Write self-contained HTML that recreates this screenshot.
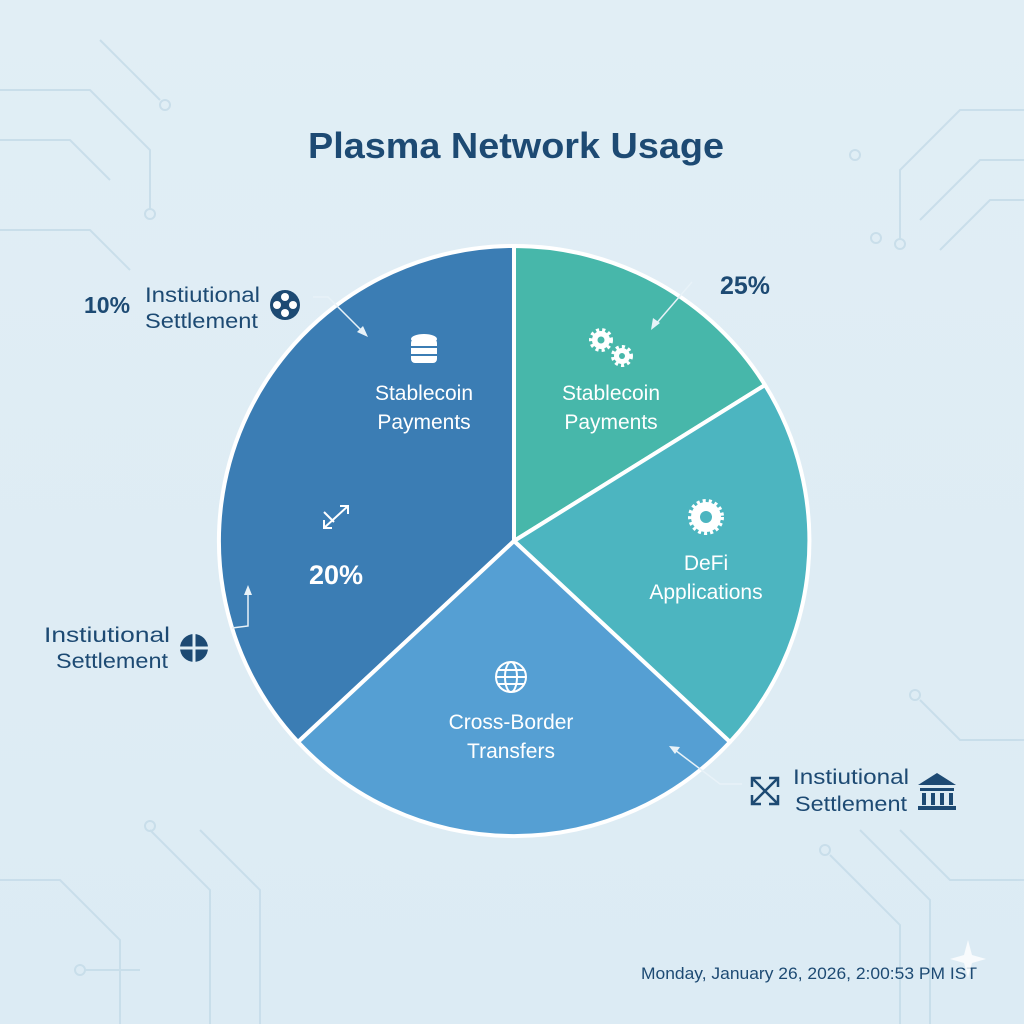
<!DOCTYPE html>
<html><head><style>
html,body{margin:0;padding:0;}
body{width:1024px;height:1024px;background:linear-gradient(180deg,#e1eef5,#dcebf4);overflow:hidden;}
svg{display:block;font-family:"Liberation Sans","DejaVu Sans",sans-serif;}
</style></head><body>
<svg width="1024" height="1024" viewBox="0 0 1024 1024">
<g stroke="#c4dbe8" stroke-width="2" fill="none" opacity="0.8">
<path d="M0 90 H90 L150 150 V210"/><circle cx="150" cy="214" r="5"/>
<path d="M0 140 H70 L110 180"/><path d="M0 230 H90 L130 270"/>
<path d="M100 40 L160 100"/><circle cx="165" cy="105" r="5"/>
<path d="M1024 110 H960 L900 170 V240"/><circle cx="900" cy="244" r="5"/>
<path d="M1024 160 H980 L920 220"/><circle cx="876" cy="238" r="5"/>
<path d="M1024 200 H990 L940 250"/><circle cx="855" cy="155" r="5"/>
<path d="M0 880 H60 L120 940 V1024"/><path d="M150 830 L210 890 V1024"/><circle cx="150" cy="826" r="5"/>
<path d="M200 830 L260 890 V1024"/><circle cx="80" cy="970" r="5"/><path d="M85 970 H140"/>
<path d="M1024 740 H960 L920 700"/><circle cx="915" cy="695" r="5"/>
<path d="M1024 880 H950 L900 830"/><circle cx="825" cy="850" r="5"/><path d="M830 855 L900 925 V1024"/>
<path d="M860 830 L930 900 V1024"/>
</g>
<text x="516" y="158" text-anchor="middle" font-size="36" font-weight="bold" fill="#1d4a73" textLength="416" lengthAdjust="spacingAndGlyphs">Plasma Network Usage</text>
<g stroke="#fff" stroke-width="4" stroke-linejoin="round">
<path d="M514 541 L298 742 A295 295 0 0 1 514 246 Z" fill="#3b7db4"/>
<path d="M514 541 L514 246 A295 295 0 0 1 765 385 Z" fill="#47b7aa"/>
<path d="M514 541 L765 385 A295 295 0 0 1 730 742 Z" fill="#4cb5c0"/>
<path d="M514 541 L730 742 A295 295 0 0 1 298 742 Z" fill="#559fd3"/>
</g>
<g fill="#fff" font-size="21" text-anchor="middle">
<text x="424" y="400">Stablecoin</text><text x="424" y="429">Payments</text>
<text x="611" y="400">Stablecoin</text><text x="611" y="429">Payments</text>
<text x="706" y="570">DeFi</text><text x="706" y="599">Applications</text>
<text x="511" y="729">Cross-Border</text><text x="511" y="758">Transfers</text>
<text x="336" y="584" font-size="27" font-weight="bold">20%</text>
</g>
<g fill="#fff"><ellipse cx="424" cy="339" rx="13" ry="5"/><rect x="411" y="339" width="26" height="24" rx="4"/></g>
<g stroke="#3b7db4" stroke-width="2"><line x1="411" y1="347" x2="437" y2="347"/><line x1="411" y1="355" x2="437" y2="355"/></g>
<g fill="#fff"><circle cx="601" cy="340" r="9"/><circle cx="622" cy="356" r="8"/><circle cx="706" cy="517" r="15"/></g>
<g stroke="#fff" stroke-width="4" stroke-dasharray="3 3" fill="none"><circle cx="601" cy="340" r="10"/><circle cx="622" cy="356" r="9"/><circle cx="706" cy="517" r="16"/></g>
<g fill="#47b7aa"><circle cx="601" cy="340" r="3.5"/><circle cx="622" cy="356" r="3"/></g><circle cx="706" cy="517" r="6" fill="#4cb5c0"/>
<g stroke="#fff" stroke-width="2" fill="none"><circle cx="511" cy="677" r="15"/><ellipse cx="511" cy="677" rx="6" ry="15"/><line x1="496" y1="677" x2="526" y2="677"/><line x1="498" y1="670" x2="524" y2="670"/><line x1="498" y1="684" x2="524" y2="684"/>
<path d="M324 528 L348 506 M340 506 H348 V514 M324 512 L334 522 M324 520 V528 H332"/></g>
<g fill="#1d4a73" font-size="21.5">
<text x="84" y="313" font-size="23" font-weight="bold">10%</text>
<text x="145" y="302" textLength="115" lengthAdjust="spacingAndGlyphs">Instiutional</text><text x="145" y="328" textLength="113" lengthAdjust="spacingAndGlyphs">Settlement</text>
<text x="720" y="294" font-size="25" font-weight="bold">25%</text>
<text x="44" y="642" textLength="126" lengthAdjust="spacingAndGlyphs">Instiutional</text><text x="56" y="668" textLength="112" lengthAdjust="spacingAndGlyphs">Settlement</text>
<text x="793" y="784" textLength="116" lengthAdjust="spacingAndGlyphs">Instiutional</text><text x="795" y="811" textLength="112" lengthAdjust="spacingAndGlyphs">Settlement</text>
</g>
<circle cx="285" cy="305" r="15" fill="#1d4a73"/>
<g fill="#fff"><circle cx="285" cy="297" r="4"/><circle cx="285" cy="313" r="4"/><circle cx="277" cy="305" r="4"/><circle cx="293" cy="305" r="4"/></g>
<circle cx="194" cy="648" r="14" fill="#1d4a73"/><g stroke="#e0eef5" stroke-width="3"><line x1="194" y1="634" x2="194" y2="662"/><line x1="180" y1="648" x2="208" y2="648"/></g>
<g fill="#1d4a73"><path d="M918 785 L937 773 L956 785 Z"/><rect x="920" y="788" width="34" height="3"/><rect x="922" y="793" width="4" height="12"/><rect x="931" y="793" width="4" height="12"/><rect x="940" y="793" width="4" height="12"/><rect x="949" y="793" width="4" height="12"/><rect x="918" y="806" width="38" height="4"/></g>
<g stroke="#1d4a73" stroke-width="2.5" fill="none"><path d="M752 778 L778 804 M752 804 L778 778 M752 787 V778 H761 M769 778 H778 V787 M752 795 V804 H761 M769 804 H778 V795"/></g>
<g stroke="#e8f2f8" stroke-width="1.5" fill="none">
<path d="M313 297 H328 L364 333"/><path d="M692 282 L655 325"/><path d="M248 590 V626 L232 628"/><path d="M742 784 H720 L675 750"/>
</g>
<g fill="#e8f2f8"><path d="M368 337 L357 332 L363 326 Z"/><path d="M651 330 L653 318 L660 323 Z"/><path d="M248 585 L244 595 L252 595 Z"/><path d="M669 746 L680 747 L675 754 Z"/></g>
<text x="977" y="979" text-anchor="end" font-size="17" fill="#1d4a73" textLength="336" lengthAdjust="spacingAndGlyphs">Monday, January 26, 2026, 2:00:53 PM IST</text>
<path d="M968 940 L972 955 L986 959 L972 963 L968 978 L964 963 L950 959 L964 955 Z" fill="#fff" opacity="0.8"/>
</svg>
</body></html>
